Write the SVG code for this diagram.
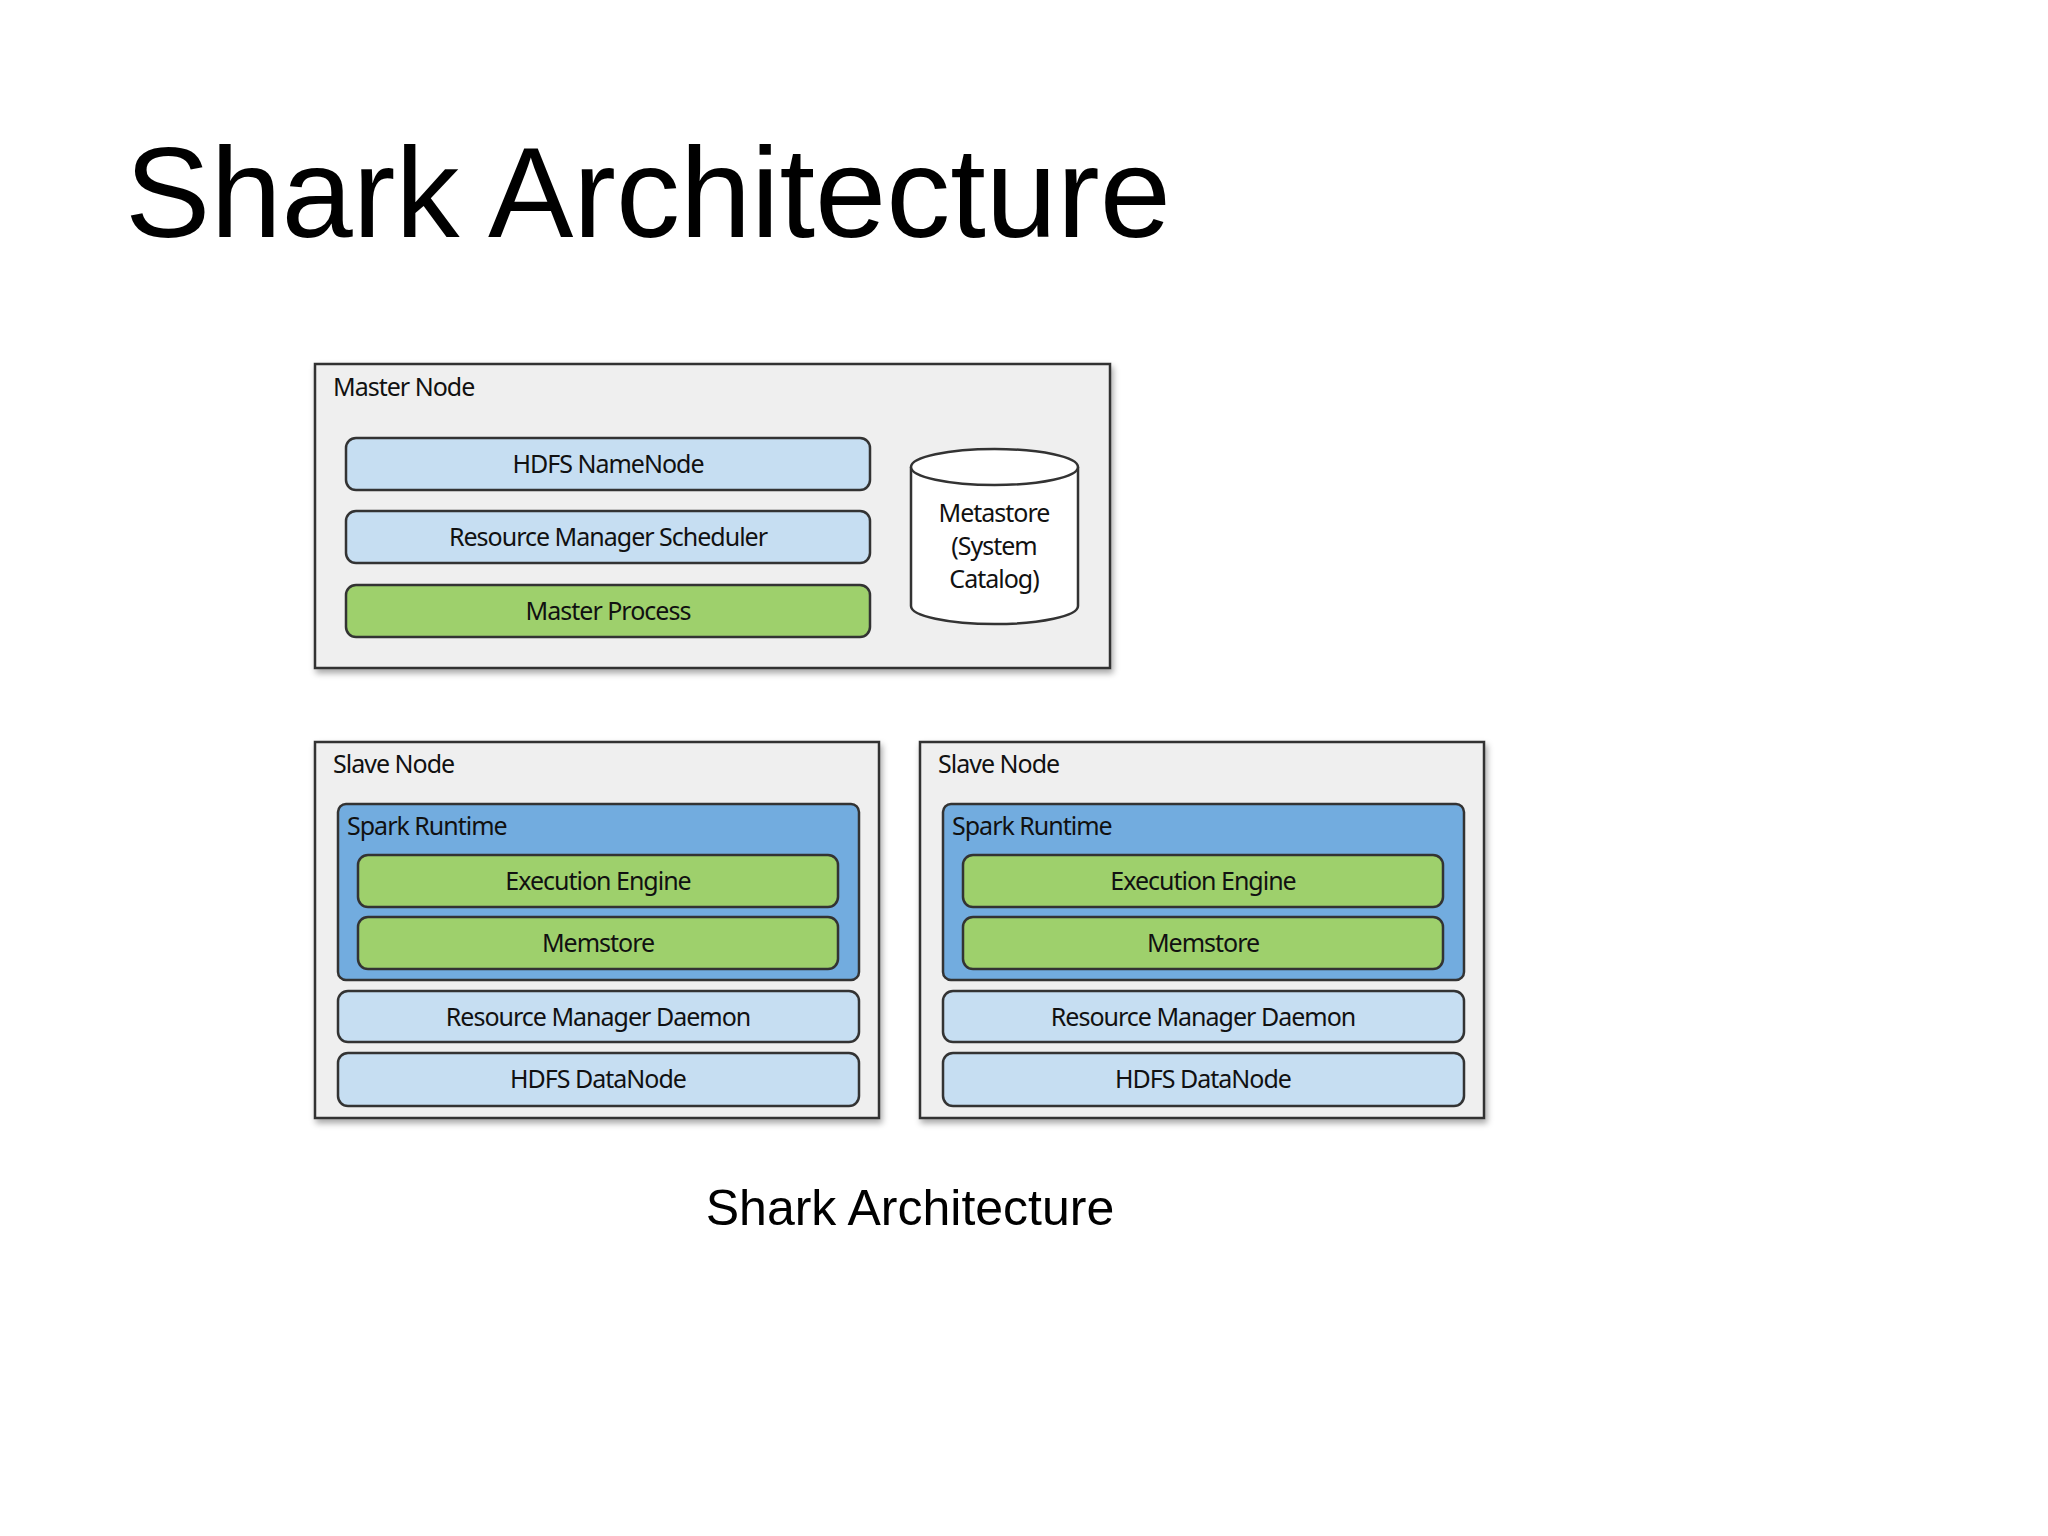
<svg xmlns="http://www.w3.org/2000/svg" width="2048" height="1536" viewBox="0 0 2048 1536">
<style>
.t{font-family:"Liberation Sans",Arial,sans-serif;fill:#000}
.l{font-family:"Noto Sans","DejaVu Sans",sans-serif;font-size:25px;fill:#111;letter-spacing:-1px}
.c{text-anchor:middle}
.outer{fill:#efefef;stroke:#333;stroke-width:2.5}
.lb{fill:#c6def2;stroke:#333;stroke-width:2.5}
.gr{fill:#9ed06c;stroke:#333;stroke-width:2.5}
.sp{fill:#72acdf;stroke:#333;stroke-width:2.5}
</style>
<defs>
<filter id="sh" x="-5%" y="-5%" width="110%" height="115%"><feDropShadow dx="2" dy="4" stdDeviation="3" flood-color="#000" flood-opacity="0.35"/></filter>
</defs>
<rect width="2048" height="1536" fill="#fff"/>
<text class="t" x="125" y="237" font-size="128">Shark Architecture</text>
<g id="master">
<rect class="outer" x="315" y="364" width="795" height="304" filter="url(#sh)"/>
<text class="l" x="333" y="396">Master Node</text>
<g id="namenode"><rect class="lb" x="346" y="438" width="524" height="52" rx="10"/><text class="l c" x="608" y="473">HDFS NameNode</text></g>
<g id="rms"><rect class="lb" x="346" y="511" width="524" height="52" rx="10"/><text class="l c" x="608" y="546">Resource Manager Scheduler</text></g>
<g id="mp"><rect class="gr" x="346" y="585" width="524" height="52" rx="10"/><text class="l c" x="608" y="620">Master Process</text></g>
<g id="metastore">
<path d="M911,467 V606 A83,18 0 0 0 1078,606 V467" fill="#fff" stroke="#333" stroke-width="2.5"/>
<ellipse cx="994.5" cy="467" rx="83.5" ry="18" fill="#fff" stroke="#333" stroke-width="2.5"/>
<text class="l c" x="994" y="522">Metastore</text><text class="l c" x="994" y="555">(System</text><text class="l c" x="994" y="588">Catalog)</text>
</g>
</g>
<g id="slave1">
<rect class="outer" x="315" y="742" width="564" height="376" filter="url(#sh)"/>
<text class="l" x="333" y="773">Slave Node</text>
<rect class="sp" x="338" y="804" width="521" height="176" rx="8"/>
<text class="l" x="347" y="835">Spark Runtime</text>
<rect class="gr" x="358" y="855" width="480" height="52" rx="10"/><text class="l c" x="598" y="890">Execution Engine</text>
<rect class="gr" x="358" y="917" width="480" height="52" rx="10"/><text class="l c" x="598" y="952">Memstore</text>
<rect class="lb" x="338" y="991" width="521" height="51" rx="10"/><text class="l c" x="598" y="1026">Resource Manager Daemon</text>
<rect class="lb" x="338" y="1053" width="521" height="53" rx="10"/><text class="l c" x="598" y="1088">HDFS DataNode</text>
</g>
<g id="slave2" transform="translate(605,0)">
<rect class="outer" x="315" y="742" width="564" height="376" filter="url(#sh)"/>
<text class="l" x="333" y="773">Slave Node</text>
<rect class="sp" x="338" y="804" width="521" height="176" rx="8"/>
<text class="l" x="347" y="835">Spark Runtime</text>
<rect class="gr" x="358" y="855" width="480" height="52" rx="10"/><text class="l c" x="598" y="890">Execution Engine</text>
<rect class="gr" x="358" y="917" width="480" height="52" rx="10"/><text class="l c" x="598" y="952">Memstore</text>
<rect class="lb" x="338" y="991" width="521" height="51" rx="10"/><text class="l c" x="598" y="1026">Resource Manager Daemon</text>
<rect class="lb" x="338" y="1053" width="521" height="53" rx="10"/><text class="l c" x="598" y="1088">HDFS DataNode</text>
</g>
<g id="connectors"/>
<text class="t c" x="910" y="1225" font-size="50">Shark Architecture</text>
</svg>
